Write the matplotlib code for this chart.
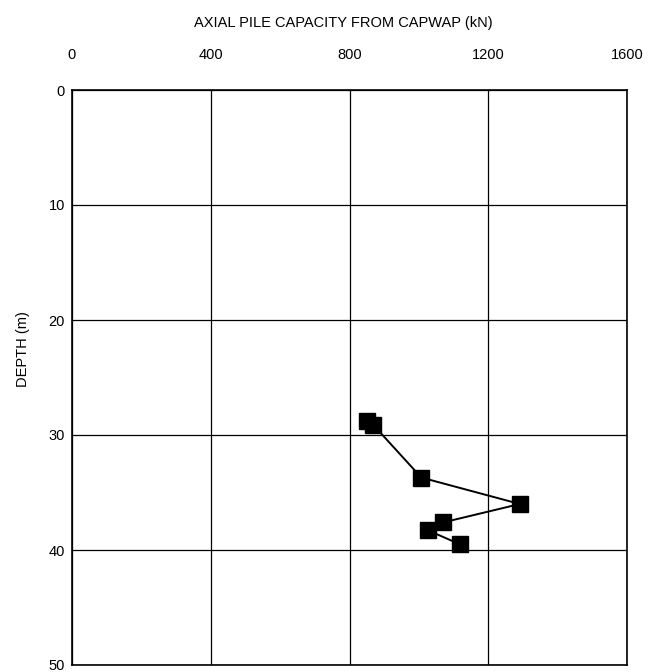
import matplotlib
matplotlib.use("Agg")
import matplotlib.pyplot as plt

# Data
capacity = [851, 868, 1007, 1291, 1070, 1027, 1118]   # kN
depth = [28.8, 29.1, 33.7, 36.0, 37.6, 38.3, 39.5]    # m

x_ticks = [0, 400, 800, 1200, 1600]
y_ticks = [0, 10, 20, 30, 40, 50]

plt.rcParams['font.family'] = ['Liberation Sans Narrow', 'Liberation Sans', 'DejaVu Sans']

fig = plt.figure(figsize=(6.66, 6.72), dpi=100)
ax = fig.add_axes([72 / 666, 7 / 672, (627 - 72) / 666, (665 - 90) / 672])

ax.plot(capacity, depth, color='black', lw=1.4, marker='s', ms=11,
        markerfacecolor='black', markeredgecolor='black')

ax.set_xlim(0, 1600)
ax.set_ylim(50, 0)
ax.set_xticks(x_ticks)
ax.set_yticks(y_ticks)
ax.xaxis.tick_top()
ax.tick_params(axis='x', length=0, pad=20, labelsize=10.5)
ax.tick_params(axis='y', length=0, pad=5, labelsize=10.5)
ax.grid(True, color='black', lw=0.9)
for s in ax.spines.values():
    s.set_linewidth(1.2)

fig.text(0.515, 0.966, 'AXIAL PILE CAPACITY FROM CAPWAP (kN)', ha='center', va='center',
         fontsize=10.5)
fig.text(0.035, 0.48, 'DEPTH (m)', rotation=90, ha='center', va='center', fontsize=10.5)

fig.savefig('out.png', dpi=100)
